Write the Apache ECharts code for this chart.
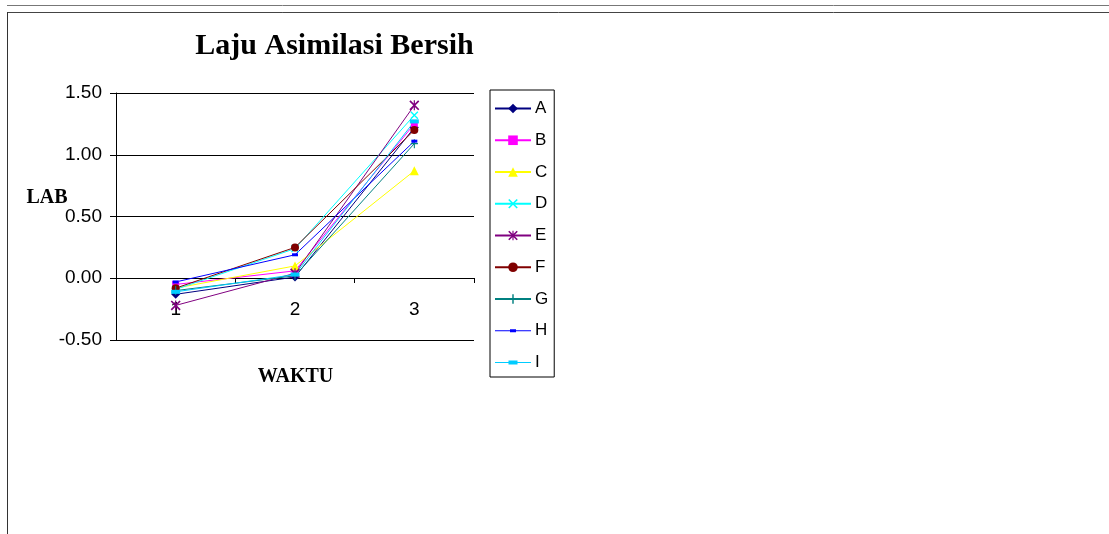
<!DOCTYPE html>
<html>
<head>
<meta charset="utf-8">
<script src="https://cdn.jsdelivr.net/npm/echarts@6/dist/echarts.min.js"></script>
<style>html,body{margin:0;padding:0;background:#fff;}#c{width:1109px;height:534px;}</style>
</head>
<body>
<div id="c"></div>
<script>
const categories = ['1', '2', '3'];
const seriesNames = ['A', 'B', 'C', 'D', 'E', 'F', 'G', 'H', 'I'];
const A = [-0.13, 0.01, 1.22];
const B = [-0.05, 0.06, 1.25];
const C = [-0.08, 0.10, 0.87];
const D = [-0.09, 0.24, 1.32];
const E = [-0.22, 0.04, 1.40];
const F = [-0.08, 0.25, 1.20];
const G = [-0.10, 0.02, 1.09];
const H = [-0.03, 0.19, 1.11];
const I = [-0.11, 0.03, 1.27];
const yTicks = [-0.5, 0, 0.5, 1.0, 1.5];

const values = [A, B, C, D, E, F, G, H, I];
const colors = ['#000080', '#FF00FF', '#FFFF00', '#00FFFF', '#800080', '#800000', '#008080', '#0000FF', '#00CCFF'];
const xPath = 'M0,1.2L1.2,0L10,8.8L8.8,10Z M8.8,0L10,1.2L1.2,10L0,8.8Z';
const symbols = [
  ['diamond', 9],
  ['rect', 7],
  ['triangle', 9],
  ['path://' + xPath, 8],
  ['path://' + xPath + ' M4.4,0L5.6,0L5.6,10L4.4,10Z', 10],
  ['circle', 8],
  ['path://M4.4,0L5.6,0L5.6,10L4.4,10Z M1,4.4L9,4.4L9,5.6L1,5.6Z', 9],
  ['path://M0,0L10,0L10,5L0,5Z', 6],
  ['path://M0,0L10,0L10,4.5L0,4.5Z', 9]
];
// legend icons for the dash markers: line + dash, with invisible corner specks to keep a 36x12 box
const corner = 'M0,0L0.01,0L0,0.01Z M36,12L35.99,12L36,11.99Z';
const legendIcons = {
  H: 'path://' + corner + ' M0,5.5L36,5.5L36,6.5L0,6.5Z M15,4.5L21,4.5L21,7.5L15,7.5Z',
  I: 'path://' + corner + ' M0,5.5L36,5.5L36,6.5L0,6.5Z M13.5,4L22.5,4L22.5,8L13.5,8Z'
};

const chart = echarts.init(document.getElementById('c'), null, {renderer: 'canvas'});
const series = seriesNames.map((n, i) => ({
  name: n,
  type: 'line',
  data: values[i],
  symbol: symbols[i][0],
  symbolSize: symbols[i][1],
  symbolKeepAspect: true,
  showAllSymbol: true,
  lineStyle: {width: 1, color: colors[i]},
  itemStyle: {color: colors[i], borderWidth: 0},
  emphasis: {disabled: true},
  animation: false
}));

chart.setOption({
  animation: false,
  grid: {left: 116, top: 93, width: 358, height: 247, containLabel: false},
  xAxis: {
    type: 'category',
    data: categories,
    boundaryGap: true,
    offset: -62,
    axisLine: {onZero: false, lineStyle: {color: '#000', width: 1}},
    axisTick: {show: true, length: 5, lineStyle: {color: '#000'}, alignWithLabel: false},
    axisLabel: {margin: 22, color: '#000', fontSize: 19, fontFamily: 'Liberation Sans'},
    splitLine: {show: false}
  },
  yAxis: {
    type: 'value',
    min: -0.5, max: 1.5, interval: 0.5,
    axisLine: {show: true, lineStyle: {color: '#000', width: 1}},
    axisTick: {show: true, length: 6, lineStyle: {color: '#000'}},
    axisLabel: {margin: 14, color: '#000', fontSize: 19, fontFamily: 'Liberation Sans',
      formatter: v => yTicks.indexOf(v) >= 0 ? v.toFixed(2) : ''},
    splitLine: {show: true, lineStyle: {color: '#000', width: 1}}
  },
  legend: {
    orient: 'vertical',
    left: 490, top: 90,
    data: seriesNames.map(n => legendIcons[n] ? {name: n, icon: legendIcons[n]} : {name: n}),
    itemWidth: 36, itemHeight: 12, itemGap: 14.75,
    padding: [10, 6, 6, 4],
    borderColor: '#000', borderWidth: 1,
    textStyle: {fontSize: 17, color: '#000', fontFamily: 'Liberation Sans', padding: [0, 0, 0, -1]},
    selectedMode: false
  },
  graphic: [
    {type: 'line', shape: {x1: 7, y1: 5.5, x2: 1109, y2: 5.5}, style: {stroke: '#777', lineWidth: 1}, silent: true},
    {type: 'line', shape: {x1: 7.5, y1: 12.5, x2: 1109, y2: 12.5}, style: {stroke: '#444', lineWidth: 1}, silent: true},
    {type: 'line', shape: {x1: 7.5, y1: 12, x2: 7.5, y2: 534}, style: {stroke: '#333', lineWidth: 1}, silent: true},
    {type: 'text', style: {text: 'Laju Asimilasi Bersih', x: 334.5, y: 46, align: 'center', verticalAlign: 'middle',
      font: 'bold 30px "Liberation Serif"', fill: '#000'}, silent: true},
    {type: 'text', style: {text: 'LAB', x: 47, y: 197.5, align: 'center', verticalAlign: 'middle',
      font: 'bold 20px "Liberation Serif"', fill: '#000'}, silent: true},
    {type: 'text', style: {text: 'WAKTU', x: 295.5, y: 377, align: 'center', verticalAlign: 'middle',
      font: 'bold 20px "Liberation Serif"', fill: '#000'}, silent: true}
  ],
  series: series
});
</script>
</body>
</html>
